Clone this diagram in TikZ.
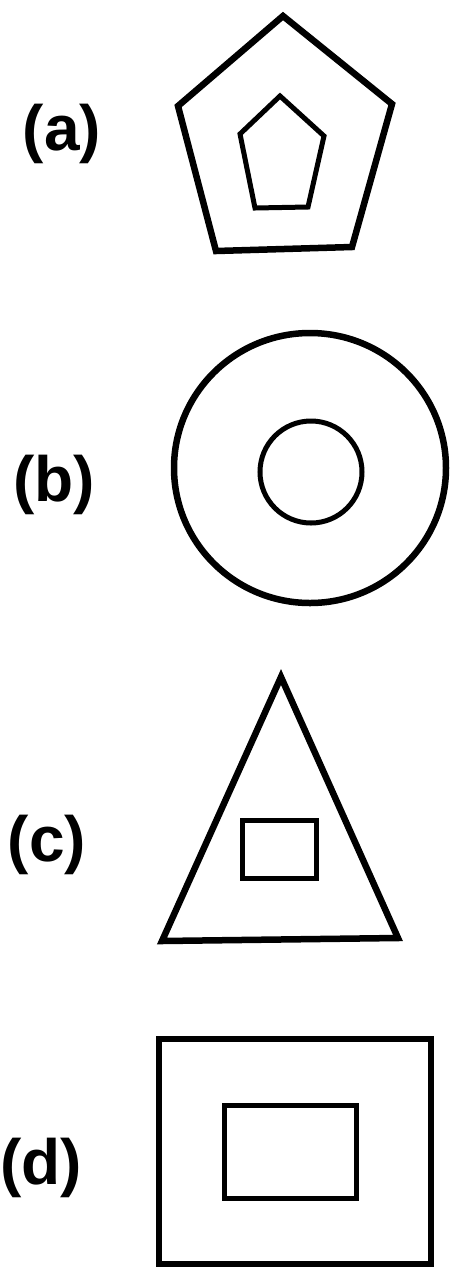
\documentclass[tikz,border=0pt]{standalone}
\usepackage{fontspec}
\setmainfont{Liberation Sans}
\begin{document}
\begin{tikzpicture}[x=1pt,y=-1pt,
  outer/.style={draw=black,line width=6.5pt,line join=miter},
  inner/.style={draw=black,line width=5pt,line join=miter},
  lbl/.style={inner sep=0pt,font=\fontsize{64}{70}\selectfont\bfseries}]
\useasboundingbox (0,0) rectangle (454,1270);
% (a)
\node[lbl] (la) at (62,134) {(a)};
\draw[outer] (283,16) -- (392,104) -- (352,247) -- (216,251) -- (178,106) -- cycle;
\draw[inner] (280,96) -- (324,136) -- (308,207) -- (255,208) -- (240,134) -- cycle;
% (b)
\node[lbl] (lb) at (54,485) {(b)};
\draw[outer] (310,468) ellipse [x radius=136pt, y radius=135pt];
\draw[inner] (311,472) circle [radius=51pt];
% (c)
\node[lbl] (lc) at (47,845) {(c)};
\draw[outer] (281,677) -- (398,938) -- (162,941) -- cycle;
\draw[inner] (242,820) rectangle (316,878);
% (d)
\node[lbl] (ld) at (41,1168) {(d)};
\draw[outer] (159,1039) rectangle (431,1264);
\draw[inner] (224,1105) rectangle (356,1198);
\end{tikzpicture}
\end{document}
